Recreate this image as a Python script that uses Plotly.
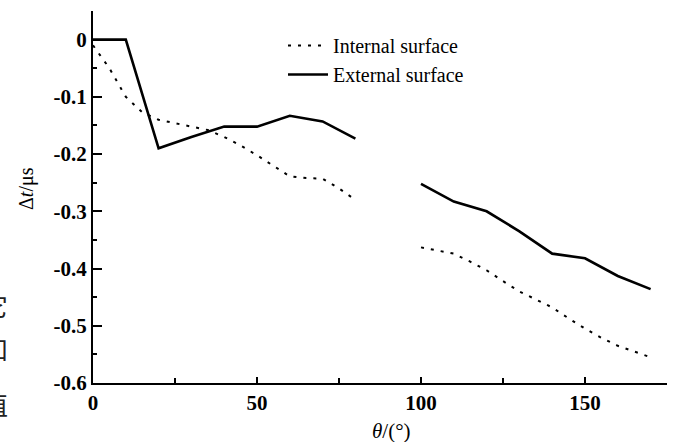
import plotly.graph_objects as go

# ---- data ----
theta_internal = [0, 5, 10, 15, 20, 25, 30, 35, 40, 45, 50, 55, 60, 65, 70, 75, 80, 90,
                  100, 105, 110, 115, 120, 125, 130, 135, 140, 145, 150, 155, 160, 165, 170]
dt_internal = [-0.01, -0.05, -0.10, -0.127, -0.14, -0.146, -0.151, -0.158, -0.17, -0.185,
               -0.202, -0.22, -0.239, -0.242, -0.243, -0.26, -0.28, None,
               -0.363, -0.368, -0.374, -0.388, -0.403, -0.422, -0.44, -0.454, -0.468,
               -0.487, -0.505, -0.521, -0.535, -0.545, -0.555]

theta_external = [0, 10, 20, 30, 40, 50, 60, 70, 80, 90,
                  100, 110, 120, 130, 140, 150, 160, 170]
dt_external = [0.0, 0.0, -0.19, -0.17, -0.152, -0.152, -0.133, -0.143, -0.173, None,
               -0.252, -0.283, -0.300, -0.335, -0.374, -0.382, -0.413, -0.436]

x_tickvals = [0, 50, 100, 150]
y_tickvals = [0, -0.1, -0.2, -0.3, -0.4, -0.5, -0.6]
y_ticktext = ["0", "-0.1", "-0.2", "-0.3", "-0.4", "-0.5", "-0.6"]

legend_names = ["Internal surface", "External surface"]
side_chars = ["它", "和", "值"]

# ---- layout geometry (pixels) ----
W, H = 675, 442
L, R, T, B = 93, 8, 11, 59
PW, PH = W - L - R, H - T - B


def px(xp):
    return (xp - L) / PW


def py(yp):
    return (H - B - yp) / PH


SERIF = "Liberation Serif, Times New Roman, serif"

fig = go.Figure()
fig.add_trace(go.Scatter(
    x=theta_internal, y=dt_internal, mode="lines", name=legend_names[0],
    line=dict(color="black", width=2, dash="3px,7px"), connectgaps=False))
fig.add_trace(go.Scatter(
    x=theta_external, y=dt_external, mode="lines", name=legend_names[1],
    line=dict(color="black", width=2.6), connectgaps=False))

annotations = [
    dict(text="<i>θ</i>/(°)", x=px(391), y=py(431), xref="paper", yref="paper",
         showarrow=False, font=dict(family=SERIF, size=21, color="black"),
         xanchor="center", yanchor="middle"),
    dict(text="Δ<i>t</i>/μs", x=px(26), y=py(189), xref="paper", yref="paper",
         showarrow=False, textangle=-90, font=dict(family=SERIF, size=20, color="black"),
         xanchor="center", yanchor="middle"),
]
for ch, yc in zip(side_chars, [304, 348, 403]):
    annotations.append(dict(text=ch, x=px(-5), y=py(yc), xref="paper", yref="paper",
                            showarrow=False,
                            font=dict(family="Noto Sans CJK SC", size=26, color="#222"),
                            xanchor="center", yanchor="middle"))

fig.update_layout(
    width=W, height=H,
    margin=dict(l=L, r=R, t=T, b=B, pad=0),
    paper_bgcolor="white", plot_bgcolor="white",
    font=dict(family=SERIF, color="black"),
    showlegend=True,
    legend=dict(x=px(283), y=py(26), xanchor="left", yanchor="top",
                bgcolor="rgba(0,0,0,0)", font=dict(family=SERIF, size=20, color="black"),
                itemwidth=40, tracegroupgap=0),
    annotations=annotations,
    xaxis=dict(range=[0, 175], showgrid=False, zeroline=False,
               showline=True, linecolor="black", linewidth=2,
               tickmode="array", tickvals=x_tickvals,
               ticks="inside", ticklen=6, tickwidth=2, tickcolor="black",
               tickfont=dict(family=SERIF, size=21, color="black", weight="bold"),
               minor=dict(dtick=25, tick0=0, ticks="inside", ticklen=5, tickwidth=2,
                          tickcolor="black", showgrid=False)),
    yaxis=dict(range=[-0.6, 0.05], showgrid=False, zeroline=False,
               showline=True, linecolor="black", linewidth=2,
               tickmode="array", tickvals=y_tickvals, ticktext=y_ticktext,
               ticks="inside", ticklen=9, tickwidth=2, tickcolor="black",
               tickfont=dict(family=SERIF, size=21, color="black", weight="bold"),
               minor=dict(dtick=0.05, tick0=0, ticks="inside", ticklen=4, tickwidth=2,
                          tickcolor="black", showgrid=False)),
)

fig.write_html("out.html",
               config={"displayModeBar": False},
               post_script="document.body.style.margin='0';document.body.style.overflow='hidden';")
